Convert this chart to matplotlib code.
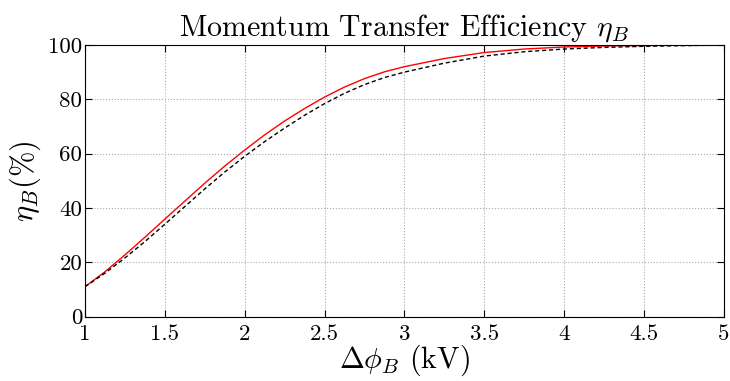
import matplotlib
matplotlib.use("Agg")
import matplotlib.pyplot as plt

plt.rcParams['font.family'] = ['cmr10', 'DejaVu Serif']
plt.rcParams['mathtext.fontset'] = 'cm'
plt.rcParams['axes.formatter.use_mathtext'] = True

# values (%)
dphi = [1.0, 1.125, 1.25, 1.375, 1.5, 1.625, 1.75, 1.875, 2.0, 2.125, 2.25, 2.375,
        2.5, 2.625, 2.75, 2.875, 3.0, 3.25, 3.5, 3.75, 4.0, 4.25, 4.5, 4.75, 5.0]
eta_red = [11.0, 16.5, 22.7, 29.2, 35.9, 42.5, 49.1, 55.4, 61.3, 66.9, 72.0, 76.6,
           80.8, 84.5, 87.6, 90.1, 92.0, 95.0, 97.2, 98.5, 99.25, 99.6, 99.8, 99.92, 100.0]
eta_black = [11.0, 16.0, 21.6, 27.6, 34.0, 40.5, 47.0, 53.2, 59.0, 64.4, 69.4, 74.1,
             78.4, 82.2, 85.4, 88.0, 90.0, 93.3, 95.9, 97.5, 98.5, 99.1, 99.5, 99.75, 99.95]
xticks = [1, 1.5, 2, 2.5, 3, 3.5, 4, 4.5, 5]
yticks = [0, 20, 40, 60, 80, 100]

fig = plt.figure(figsize=(7.3, 3.81), dpi=100)
ax = fig.add_axes([0.1164, 0.169, 0.875, 0.713])

ax.plot(dphi, eta_red, color='red', lw=1.0)
ax.plot(dphi, eta_black, color='black', lw=1.0, ls=(0, (3, 2)))

ax.set_xlim(1, 5)
ax.set_ylim(0, 100)
ax.set_xticks(xticks)
ax.set_xticklabels(['1', '1.5', '2', '2.5', '3', '3.5', '4', '4.5', '5'])
ax.set_yticks(yticks)
ax.set_yticklabels([str(v) for v in yticks])
ax.tick_params(direction='in', top=True, right=True, length=5, width=0.8,
               labelsize=16.5)
ax.tick_params(axis='x', pad=6)
ax.tick_params(axis='y', pad=2)
ax.grid(True, color='#aaaaaa', ls=':', lw=0.8)

ax.set_title(r'Momentum Transfer Efficiency $\eta_B$', fontsize=21.5, pad=7)
ax.set_xlabel(r'$\Delta\phi_B$ (kV)', fontsize=21.5, labelpad=-1)
ax.set_ylabel(r'$\eta_B(\%)$', fontsize=22, labelpad=4)

fig.savefig('out.png', dpi=100)
